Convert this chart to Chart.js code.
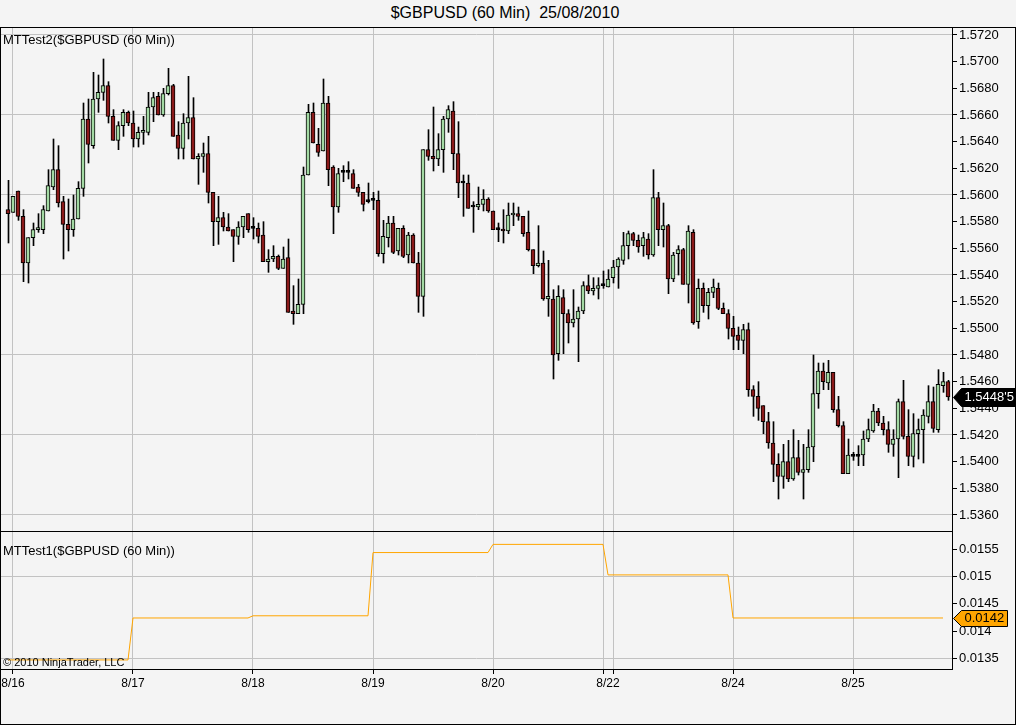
<!DOCTYPE html>
<html><head><meta charset="utf-8">
<script src="https://cdn.jsdelivr.net/npm/chart.js@4.4.0/dist/chart.umd.min.js"></script>
<style>
html,body{margin:0;padding:0;background:#f4f4f4;}
#wrap{position:relative;width:1016px;height:725px;overflow:hidden;font-family:"Liberation Sans",Arial,sans-serif;background:#f4f4f4;}
.frame{position:absolute;left:0;top:27px;width:1016px;height:698px;box-sizing:border-box;border:1px solid #000;}
.sep{position:absolute;left:0;top:531px;width:953px;height:1px;background:#000;}
canvas{position:absolute;left:0;}
.txt{position:absolute;white-space:pre;color:#000;}
</style></head><body>
<div id="wrap">
<div class="frame"></div>
<div class="sep"></div>
<canvas id="c1" width="1016" height="504" style="top:27px"></canvas>
<canvas id="c2" width="1016" height="193" style="top:531px"></canvas>
<div class="txt" style="left:0;width:1010px;text-align:center;top:4px;font-size:16px;line-height:18px;">$GBPUSD (60 Min)  25/08/2010</div>
<div class="txt" style="left:3px;top:32px;font-size:13px;line-height:15px;">MTTest2($GBPUSD (60 Min))</div>
<div class="txt" style="left:3px;top:543px;font-size:13px;line-height:15px;">MTTest1($GBPUSD (60 Min))</div>
<div class="txt" style="left:3px;top:656px;font-size:11px;line-height:13px;">© 2010 NinjaTrader, LLC</div>
</div>
<script>
// ---- Data (60-min bars, GBPUSD) ----
const open = [
1.5589,1.5587,1.5603,1.5584,1.5549,1.5568,1.5574,1.5574,1.5588,1.5606,
1.5619,1.5595,1.5578,1.5574,1.5582,1.5605,1.5657,1.5637,1.5672,1.5677,
1.5682,1.5659,1.5641,1.5652,1.5662,1.5654,1.5642,1.5647,1.5647,1.5666,
1.5674,1.5660,1.5676,1.5682,1.5645,1.5635,1.5654,1.5658,1.5627,1.5629,
1.5631,1.5602,1.5580,1.5583,1.5576,1.5574,1.5569,1.5576,1.5586,1.5575,
1.5575,1.5570,1.5550,1.5552,1.5554,1.5545,1.5553,1.5513,1.5511,1.5518,
1.5615,1.5662,1.5638,1.5633,1.5669,1.5621,1.5591,1.5617,1.5617,1.5616,
1.5606,1.5602,1.5595,1.5596,1.5596,1.5556,1.5568,1.5579,1.5558,1.5575,
1.5555,1.5570,1.5549,1.5524,1.5634,1.5629,1.5627,1.5634,1.5657,1.5663,
1.5631,1.5609,1.5609,1.5591,1.5591,1.5593,1.5597,1.5588,1.5574,1.5574,
1.5573,1.5585,1.5586,1.5584,1.5572,1.5559,1.5547,1.5549,1.5522,1.5522,
1.5481,1.5523,1.5511,1.5504,1.5507,1.5513,1.5532,1.5528,1.5530,1.5532,
1.5531,1.5538,1.5546,1.5551,1.5562,1.5571,1.5566,1.5562,1.5567,1.5555,
1.5598,1.5574,1.5577,1.5537,1.5556,1.5559,1.5533,1.5572,1.5505,1.5530,
1.5517,1.5527,1.5530,1.5515,1.5511,1.5500,1.5495,1.5491,1.5499,1.5454,
1.5449,1.5442,1.5430,1.5414,1.5398,1.5389,1.5400,1.5387,1.5403,1.5392,
1.5394,1.5411,1.5451,1.5468,1.5459,1.5467,1.5439,1.5427,1.5391,1.5404,
1.5404,1.5405,1.5417,1.5423,1.5438,1.5429,1.5424,1.5413,1.5417,1.5445,
1.5419,1.5404,1.5421,1.5424,1.5434,1.5445,1.5424,1.5457,1.5460];
const high = [
1.5611,1.5599,1.5603,1.5589,1.5568,1.5579,1.5586,1.5592,1.5619,1.5642,
1.5637,1.5599,1.5597,1.5600,1.5610,1.5669,1.5672,1.5692,1.5690,1.5702,
1.5685,1.5664,1.5655,1.5664,1.5663,1.5663,1.5651,1.5659,1.5677,1.5677,
1.5677,1.5680,1.5695,1.5683,1.5655,1.5661,1.5689,1.5673,1.5631,1.5639,
1.5644,1.5602,1.5599,1.5587,1.5586,1.5574,1.5580,1.5584,1.5586,1.5583,
1.5579,1.5580,1.5559,1.5562,1.5555,1.5561,1.5567,1.5532,1.5537,1.5621,
1.5668,1.5669,1.5650,1.5687,1.5674,1.5622,1.5620,1.5622,1.5625,1.5619,
1.5608,1.5602,1.5609,1.5602,1.5603,1.5581,1.5584,1.5584,1.5575,1.5577,
1.5572,1.5571,1.5557,1.5634,1.5649,1.5666,1.5646,1.5659,1.5667,1.5670,
1.5655,1.5615,1.5615,1.5595,1.5606,1.5604,1.5598,1.5588,1.5579,1.5589,
1.5594,1.5594,1.5591,1.5584,1.5588,1.5559,1.5577,1.5558,1.5551,1.5529,
1.5532,1.5529,1.5514,1.5529,1.5516,1.5535,1.5540,1.5538,1.5538,1.5543,
1.5544,1.5551,1.5553,1.5572,1.5573,1.5572,1.5570,1.5572,1.5571,1.5619,
1.5602,1.5594,1.5578,1.5557,1.5562,1.5560,1.5577,1.5574,1.5537,1.5534,
1.5530,1.5537,1.5534,1.5519,1.5514,1.5509,1.5501,1.5503,1.5504,1.5457,
1.5460,1.5442,1.5437,1.5430,1.5406,1.5413,1.5416,1.5424,1.5416,1.5413,
1.5424,1.5480,1.5474,1.5474,1.5476,1.5467,1.5449,1.5430,1.5417,1.5407,
1.5412,1.5423,1.5432,1.5443,1.5440,1.5434,1.5430,1.5424,1.5447,1.5461,
1.5439,1.5436,1.5432,1.5439,1.5457,1.5456,1.5469,1.5467,1.5461];
const low = [
1.5564,1.5587,1.5581,1.5535,1.5534,1.5562,1.5572,1.5571,1.5588,1.5604,
1.5591,1.5552,1.5558,1.5569,1.5582,1.5599,1.5624,1.5635,1.5662,1.5671,
1.5654,1.5641,1.5634,1.5644,1.5652,1.5636,1.5636,1.5638,1.5645,1.5655,
1.5660,1.5659,1.5675,1.5644,1.5627,1.5627,1.5642,1.5627,1.5608,1.5617,
1.5594,1.5562,1.5563,1.5573,1.5573,1.5550,1.5563,1.5568,1.5572,1.5567,
1.5564,1.5550,1.5542,1.5550,1.5544,1.5545,1.5512,1.5503,1.5511,1.5511,
1.5615,1.5639,1.5629,1.5633,1.5607,1.5571,1.5587,1.5610,1.5612,1.5605,
1.5599,1.5588,1.5594,1.5589,1.5554,1.5549,1.5561,1.5556,1.5555,1.5553,
1.5549,1.5549,1.5512,1.5509,1.5626,1.5618,1.5622,1.5617,1.5647,1.5619,
1.5598,1.5584,1.5590,1.5572,1.5589,1.5588,1.5587,1.5574,1.5565,1.5564,
1.5571,1.5577,1.5581,1.5569,1.5558,1.5541,1.5546,1.5521,1.5509,1.5462,
1.5476,1.5481,1.5489,1.5501,1.5475,1.5511,1.5526,1.5525,1.5522,1.5530,
1.5531,1.5534,1.5530,1.5548,1.5552,1.5562,1.5557,1.5554,1.5552,1.5554,
1.5562,1.5561,1.5526,1.5535,1.5540,1.5533,1.5519,1.5503,1.5500,1.5512,
1.5507,1.5523,1.5514,1.5511,1.5492,1.5484,1.5484,1.5481,1.5449,1.5434,
1.5431,1.5421,1.5410,1.5385,1.5372,1.5380,1.5385,1.5386,1.5390,1.5372,
1.5392,1.5400,1.5440,1.5454,1.5454,1.5437,1.5426,1.5391,1.5391,1.5401,
1.5397,1.5397,1.5415,1.5422,1.5427,1.5420,1.5407,1.5404,1.5388,1.5417,
1.5397,1.5396,1.5402,1.5399,1.5429,1.5422,1.5422,1.5452,1.5446];
const close = [
1.5586,1.5599,1.5584,1.5549,1.5568,1.5574,1.5575,1.5589,1.5607,1.5619,
1.5594,1.5578,1.5574,1.5582,1.5605,1.5657,1.5638,1.5672,1.5677,1.5682,
1.5659,1.5641,1.5652,1.5662,1.5654,1.5642,1.5647,1.5648,1.5666,1.5673,
1.5660,1.5676,1.5682,1.5644,1.5635,1.5654,1.5658,1.5627,1.5629,1.5631,
1.5602,1.5580,1.5583,1.5576,1.5573,1.5569,1.5576,1.5584,1.5574,1.5575,
1.5569,1.5550,1.5552,1.5554,1.5545,1.5552,1.5512,1.5511,1.5518,1.5615,
1.5662,1.5639,1.5632,1.5669,1.5619,1.5591,1.5616,1.5617,1.5617,1.5605,
1.5602,1.5593,1.5595,1.5596,1.5556,1.5569,1.5579,1.5557,1.5575,1.5554,
1.5570,1.5549,1.5524,1.5634,1.5629,1.5627,1.5634,1.5657,1.5664,1.5631,
1.5609,1.5609,1.5590,1.5591,1.5593,1.5597,1.5588,1.5574,1.5574,1.5573,
1.5585,1.5586,1.5584,1.5571,1.5559,1.5547,1.5549,1.5522,1.5524,1.5480,
1.5524,1.5511,1.5504,1.5507,1.5513,1.5532,1.5528,1.5530,1.5532,1.5532,
1.5537,1.5546,1.5552,1.5562,1.5571,1.5566,1.5561,1.5568,1.5555,1.5598,
1.5574,1.5577,1.5537,1.5555,1.5559,1.5533,1.5573,1.5504,1.5530,1.5517,
1.5527,1.5531,1.5515,1.5511,1.5500,1.5494,1.5491,1.5499,1.5454,1.5449,
1.5440,1.5430,1.5414,1.5398,1.5389,1.5400,1.5387,1.5403,1.5392,1.5394,
1.5411,1.5451,1.5468,1.5460,1.5467,1.5439,1.5427,1.5391,1.5405,1.5404,
1.5404,1.5417,1.5424,1.5438,1.5429,1.5424,1.5413,1.5417,1.5445,1.5419,
1.5404,1.5421,1.5424,1.5435,1.5445,1.5425,1.5458,1.5460,1.54485];

// Indicator MTTest1: breakpoints (bar index) and values
const mtBar = [0, 24, 25, 48, 49, 72, 73, 96, 97, 119, 120, 144, 145, 187];
const mtVal = [0.01347,0.01347,0.01424,0.01424,0.01428,0.01428,0.01544,0.01544,0.01559,0.01559,0.01503,0.01503,0.01424,0.01424];

// Axis ticks
const dayTicks  = [1, 25, 49, 73, 97, 119, 120, 121, 145, 169];
const dayLabels = ['8/16','8/17','8/18','8/19','8/20','','8/22','','8/24','8/25'];
const dayGrid   = [true,true,true,true,true,true,false,true,true,true];
const priceTicks = [1.5360,1.5380,1.5400,1.5420,1.5440,1.5460,1.5480,1.5500,1.5520,1.5540,1.5560,1.5580,1.5600,1.5620,1.5640,1.5660,1.5680,1.5700,1.5720];
const mtTicks = [0.0135, 0.014, 0.0145, 0.015, 0.0155];

// ---- Styling ----
const FONT = '"Liberation Sans", Arial, sans-serif';
Chart.defaults.font.family = FONT;
Chart.defaults.color = '#000';
const GRID = '#c2c2c2';
const UP = '#a3d9a3', DOWN = '#8b1a1a';
const X_MIN = -1.4, X_MAX = 188.8;

const dayGridColor = c => (dayGrid[c.index] ? GRID : 'rgba(0,0,0,0)');
const dayTickColor = c => (dayGrid[c.index] ? '#000' : 'rgba(0,0,0,0)');
const setDayTicks = s => { s.ticks = dayTicks.map(v => ({ value: v })); };

function marker(id, value, text, fill, txtColor, right, half) {
  return { id, afterDraw(chart) {
    const ctx = chart.ctx, y = Math.round(chart.scales.y.getPixelForValue(value)) + 0.5;
    const x0 = chart.chartArea.right + 1.5;
    ctx.save();
    ctx.beginPath();
    ctx.moveTo(x0, y); ctx.lineTo(x0 + 8, y - half); ctx.lineTo(right, y - half);
    ctx.lineTo(right, y + half); ctx.lineTo(x0 + 8, y + half); ctx.closePath();
    ctx.fillStyle = fill; ctx.fill();
    ctx.strokeStyle = '#000'; ctx.lineWidth = 1; ctx.stroke();
    ctx.fillStyle = txtColor; ctx.font = '13px ' + FONT; ctx.textBaseline = 'middle';
    ctx.fillText(text, x0 + 11, y);
    ctx.restore();
  }};
}

const idx = open.map((_, i) => i);
const lastClose = close[close.length - 1];
const lc = lastClose.toFixed(5);
const lastText = lc.slice(0, 6) + "'" + lc.slice(6);

new Chart(document.getElementById('c1'), {
  type: 'bar',
  data: { datasets: [
    { label: 'wick', data: idx.map(i => ({ x: i, y: [low[i], high[i]] })), xAxisID: 'xw', yAxisID: 'y',
      backgroundColor: '#000', borderWidth: 0, barThickness: 1, grouped: false, order: 2 },
    { label: 'body', data: idx.map(i => ({ x: i, y: [open[i], close[i]] })), xAxisID: 'x', yAxisID: 'y',
      backgroundColor: c => { const i = c.dataIndex; if (i === undefined) return '#000';
        return close[i] > open[i] ? UP : (close[i] < open[i] ? DOWN : '#000'); },
      borderColor: '#000', borderWidth: 1, borderSkipped: false, barThickness: 4, minBarLength: 2,
      grouped: false, order: 1 }
  ]},
  options: {
    responsive: false, animation: false, devicePixelRatio: 1,
    layout: { padding: { left: 1, top: 1, right: 0, bottom: 0 } },
    plugins: { legend: { display: false }, tooltip: { enabled: false } },
    scales: {
      x: { type: 'linear', position: 'bottom', min: X_MIN, max: X_MAX, offset: false,
        afterBuildTicks: setDayTicks,
        afterFit: s => { s.height = 0; s.paddingLeft = 0; s.paddingRight = 0; },
        ticks: { display: false },
        grid: { offset: false, drawTicks: false, color: dayGridColor },
        border: { display: false } },
      xw: { type: 'linear', display: false, min: X_MIN - 0.1, max: X_MAX - 0.1, offset: false },
      y: { type: 'linear', position: 'right', min: 1.5348, max: 1.572525,
        afterBuildTicks: s => { s.ticks = priceTicks.map(v => ({ value: v })); },
        afterFit: s => { s.width = 64; s.paddingTop = 0; s.paddingBottom = 0; },
        ticks: { autoSkip: false, padding: 2, font: { size: 13 }, color: '#000', callback: v => v.toFixed(4) },
        grid: { color: c => (Math.round(c.tick.value * 10000) % 60 === 0 ? GRID : 'rgba(0,0,0,0)'),
                tickColor: '#000', tickLength: 5, drawTicks: true },
        border: { display: true, color: '#000', width: 1 } }
    }
  },
  plugins: [marker('lastPrice', lastClose, lastText, '#000', '#fff', 1015.5, 9)]
});

const mtLast = mtVal[mtVal.length - 1];
new Chart(document.getElementById('c2'), {
  type: 'line',
  data: { datasets: [{ data: mtBar.map((b, k) => ({ x: b, y: mtVal[k] })), borderColor: '#ffa500',
    borderWidth: 1, pointRadius: 0, tension: 0, fill: false }] },
  options: {
    responsive: false, animation: false, devicePixelRatio: 1,
    layout: { padding: { left: 1, top: 1, right: 0, bottom: 0 } },
    plugins: { legend: { display: false }, tooltip: { enabled: false } },
    scales: {
      x: { type: 'linear', position: 'bottom', min: X_MIN, max: X_MAX, offset: false,
        afterBuildTicks: setDayTicks,
        afterFit: s => { s.height = 55; s.paddingLeft = 0; s.paddingRight = 0; },
        ticks: { autoSkip: false, maxRotation: 0, minRotation: 0, padding: 2, font: { size: 12 }, color: '#000',
                 callback: (v, i) => dayLabels[i] },
        grid: { offset: false, color: dayGridColor, tickColor: dayTickColor, tickLength: 5, drawTicks: true },
        border: { display: true, color: '#000', width: 1 } },
      y: { type: 'linear', position: 'right', min: 0.013304, max: 0.015817,
        afterBuildTicks: s => { s.ticks = mtTicks.map(v => ({ value: v })); },
        afterFit: s => { s.width = 64; s.paddingTop = 0; s.paddingBottom = 0; },
        ticks: { autoSkip: false, padding: 2, font: { size: 13 }, color: '#000', callback: v => String(v) },
        grid: { color: c => ([135, 150].includes(Math.round(c.tick.value * 10000)) ? GRID : 'rgba(0,0,0,0)'),
                tickColor: '#000', tickLength: 5, drawTicks: true },
        border: { display: true, color: '#000', width: 1 } }
    }
  },
  plugins: [marker('lastMT', mtLast, mtLast.toFixed(4), '#ffa500', '#000', 1007.5, 8)]
});
</script>
</body></html>
